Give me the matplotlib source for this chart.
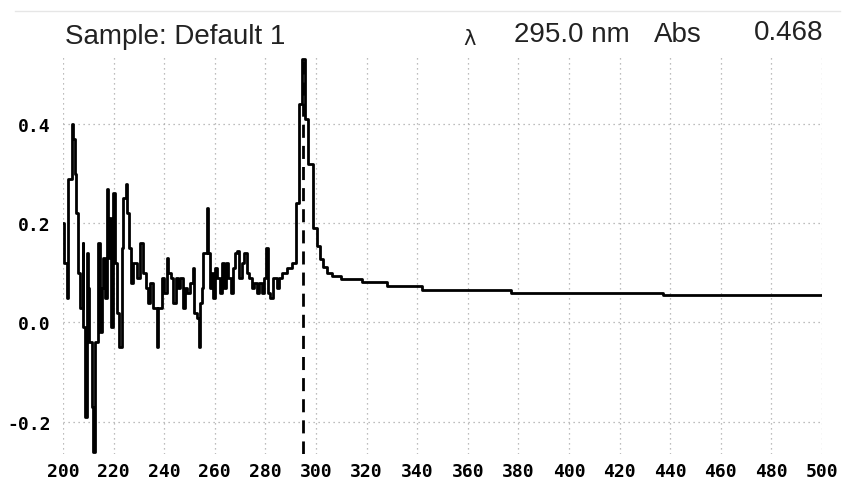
import matplotlib
matplotlib.use('Agg')
import matplotlib.pyplot as plt
from matplotlib.lines import Line2D

# spectrum (wavelength nm, absorbance), drawn as steps
wavelength = [200.0, 200.4, 201.4, 201.8, 203.4, 204.1, 204.7, 205.1, 206.1, 206.7,
              207.8, 208.0, 208.7, 209.4, 210.0, 210.4, 211.3, 212.0, 212.6, 214.0,
              214.6, 215.3, 215.9, 216.6, 217.3, 217.9, 218.3, 218.8, 219.9, 220.6,
              221.5, 222.3, 223.2, 223.8, 224.9, 225.4, 226.2, 226.7, 227.8, 229.1,
              230.4, 231.8, 232.8, 233.7, 234.4, 235.7, 237.0, 237.7, 239.0, 239.9,
              241.0, 241.6, 242.6, 243.6, 244.7, 245.6, 246.2, 247.3, 248.2, 248.9,
              250.2, 251.3, 251.8, 252.8, 253.6, 254.2, 254.8, 255.5, 256.8, 257.4,
              258.1, 258.8, 259.4, 260.1, 261.0, 262.1, 262.7, 263.6, 264.4, 265.3,
              266.3, 267.1, 268.0, 268.9, 269.7, 270.6, 271.5, 272.6, 273.6, 274.6,
              275.5, 276.5, 277.5, 278.5, 279.4, 280.2, 281.0, 281.8, 282.9, 283.8,
              284.7, 285.5, 286.4, 287.4, 288.4, 289.5, 290.5, 291.7, 292.0, 293.4,
              294.3, 295.6, 297.0, 298.8, 300.2, 301.6, 302.8, 304.5, 306.5, 310.0,
              318.0, 328.0, 342.0, 377.0, 437.0, 500.0]
absorbance = [0.20, 0.12, 0.05, 0.29, 0.40, 0.37, 0.30, 0.22, 0.10, 0.03,
              0.16, -0.01, -0.19, 0.14, 0.07, -0.04, -0.17, -0.26, -0.04, 0.16,
              -0.02, 0.07, 0.13, 0.05, 0.27, 0.13, 0.21, -0.01, 0.26, 0.12,
              0.02, -0.05, 0.15, 0.25, 0.28, 0.22, 0.15, 0.08, 0.12, 0.09,
              0.16, 0.10, 0.07, 0.04, 0.08, 0.03, -0.05, 0.03, 0.09, 0.06,
              0.13, 0.10, 0.09, 0.04, 0.09, 0.07, 0.09, 0.03, 0.07, 0.06,
              0.08, 0.11, 0.02, 0.01, -0.05, 0.04, 0.07, 0.14, 0.23, 0.14,
              0.07, 0.10, 0.05, 0.11, 0.09, 0.06, 0.12, 0.07, 0.12, 0.09,
              0.06, 0.11, 0.14, 0.145, 0.09, 0.12, 0.14, 0.10, 0.09, 0.07,
              0.08, 0.06, 0.08, 0.06, 0.09, 0.15, 0.06, 0.05, 0.09, 0.09,
              0.07, 0.09, 0.10, 0.10, 0.11, 0.11, 0.12, 0.12, 0.24, 0.44,
              0.53, 0.41, 0.32, 0.19, 0.155, 0.128, 0.112, 0.10, 0.094, 0.087,
              0.081, 0.073, 0.066, 0.060, 0.056, 0.056]

cursor_nm = 295.0
x_ticks = list(range(200, 501, 20))
y_ticks = [-0.2, 0.0, 0.2, 0.4]
y_labels = ['-0.2', '0.0', '0.2', '0.4']

fig = plt.figure(figsize=(8.51, 4.81), dpi=100)
ax = fig.add_axes([63 / 851, 26 / 481, 759 / 851, 397 / 481])

ax.plot(wavelength, absorbance, color='black', lw=2.0, drawstyle='steps-post')
ax.axvline(cursor_nm, color='black', lw=2.0, linestyle=(0, (4.7, 2.9)))

ax.set_xlim(200, 500)
ax.set_ylim(-0.265, 0.535)
ax.set_xticks(x_ticks)
ax.set_yticks(y_ticks)
ax.set_yticklabels(y_labels)
ax.grid(True, color='#a8a8a8', linestyle=(0, (1, 3)), lw=0.9)
ax.tick_params(length=0, labelsize=13, pad=6)
ax.tick_params(axis='y', pad=9)
for lab in ax.get_xticklabels() + ax.get_yticklabels():
    lab.set_family('DejaVu Sans Mono')
    lab.set_weight('bold')
for s in ax.spines.values():
    s.set_visible(False)

# header line
fig.add_artist(Line2D([15 / 851, 840 / 851], [1 - 12 / 481, 1 - 12 / 481],
                      color='#e6e6e6', lw=1))
hdr = dict(family='Liberation Sans', fontsize=20, color='#222222', va='center')
fig.text(65 / 851, 1 - 37 / 481, 'Sample: Default 1', ha='left', **hdr)
fig.text(470 / 851, 1 - 39 / 481, 'λ', ha='center', family='DejaVu Sans',
         fontsize=15, color='#222222', va='center')
fig.text(514 / 851, 1 - 35 / 481, '295.0 nm', ha='left', **hdr)
fig.text(654 / 851, 1 - 35 / 481, 'Abs', ha='left', **hdr)
fig.text(823 / 851, 1 - 33 / 481, '0.468', ha='right', **hdr)

fig.savefig('out.png', dpi=100)
